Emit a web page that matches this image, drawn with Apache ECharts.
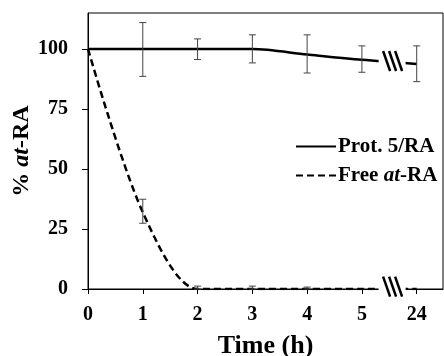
<!DOCTYPE html>
<html>
<head>
<meta charset="utf-8">
<script src="https://cdn.jsdelivr.net/npm/echarts@6/dist/echarts.min.js"></script>
<style>
  html, body { margin: 0; padding: 0; background: #fff; }
  #main { width: 444px; height: 356px; }
</style>
</head>
<body>
<div id="main"></div>
<script>
// x positions on the axis (6 stands for 24 h, after the axis break)
var xPos = [0, 1, 2, 3, 4, 5, 6];
var xTickLabels = ['0', '1', '2', '3', '4', '5', '24'];
var yTicks = [0, 25, 50, 75, 100];

var protMean = [100, 100, 100, 100, 97.7, 95.5, 93.8];
var protLow = [null, 88.6, 95.6, 94.2, 90, 90.3, 86.4];
var protHigh = [null, 111, 104.2, 105.9, 105.9, 101.3, 101.3];

var freeMean = [100, 32, 0, 0, 0, 0, 0];
var freeLow = [null, 27.4, 0, 0, 0, null, null];
var freeHigh = [null, 37.4, 1.2, 1.2, 0.8, null, null];

// where the axis break marks sit: [x, y]
var breakPts = [[5.56, 95], [5.56, 1]];

var font = 'Liberation Serif';

function pairs(ys) {
  return xPos.map(function (x, i) { return [x, ys[i]]; });
}
function errData(lo, hi) {
  var out = [];
  xPos.forEach(function (x, i) {
    if (lo[i] != null) out.push([x, lo[i], hi[i]]);
  });
  return out;
}

function renderErr(params, api) {
  var x = api.value(0);
  var top = api.coord([x, api.value(2)]);
  var bot = api.coord([x, api.value(1)]);
  var hw = 3.5;
  var st = { stroke: '#444', lineWidth: 1 };
  return {
    type: 'group',
    children: [
      { type: 'line', shape: { x1: top[0], y1: top[1], x2: bot[0], y2: bot[1] }, style: st },
      { type: 'line', shape: { x1: top[0] - hw, y1: top[1], x2: top[0] + hw, y2: top[1] }, style: st },
      { type: 'line', shape: { x1: bot[0] - hw, y1: bot[1], x2: bot[0] + hw, y2: bot[1] }, style: st }
    ]
  };
}

function renderBreak(params, api) {
  var c = api.coord([api.value(0), api.value(1)]);
  var kids = [{
    type: 'rect',
    shape: { x: c[0] - 14, y: c[1] - 7, width: 27, height: 14 },
    style: { fill: '#fff' }
  }];
  [-6, 0, 6].forEach(function (o) {
    kids.push({
      type: 'line',
      shape: { x1: c[0] + o - 3.5, y1: c[1] - 10, x2: c[0] + o + 3.5, y2: c[1] + 10 },
      style: { stroke: '#000', lineWidth: 2.5 }
    });
  });
  return { type: 'group', children: kids };
}

var chart = echarts.init(document.getElementById('main'));
var option = {
  backgroundColor: '#fff',
  animation: false,
  textStyle: { fontFamily: font, fontWeight: 'bold', color: '#000' },
  grid: {
    left: 88, top: 13, right: 1, bottom: 67,
    outerBoundsMode: 'none',
    containLabel: false,
    show: true, borderColor: '#000', borderWidth: 1
  },
  legend: {
    data: ['Prot. 5/RA', 'Free at-RA'],
    orient: 'vertical',
    left: 290,
    top: 131,
    itemWidth: 40,
    itemHeight: 10,
    itemGap: 8,
    itemStyle: { color: 'rgba(0,0,0,0)', borderWidth: 0, opacity: 0 },
    formatter: function (name) {
      return name === 'Free at-RA' ? '{n|Free }{i|at}{n|-RA}' : '{n|' + name + '}';
    },
    textStyle: {
      padding: [0, 0, 0, -3],
      rich: {
        n: { fontFamily: font, fontWeight: 'bold', fontSize: 21, color: '#000' },
        i: { fontFamily: font, fontWeight: 'bold', fontStyle: 'italic', fontSize: 21, color: '#000' }
      }
    }
  },
  xAxis: {
    type: 'value',
    min: 0,
    max: 6.48,
    name: 'Time (h)',
    nameLocation: 'middle',
    nameGap: 44,
    nameMoveOverlap: false,
    nameTextStyle: { fontFamily: font, fontWeight: 'bold', fontSize: 26, color: '#000' },
    splitLine: { show: false },
    axisLine: { lineStyle: { color: '#000', width: 1 } },
    axisTick: { length: 5, customValues: xPos, lineStyle: { color: '#000' } },
    axisLabel: {
      customValues: xPos,
      margin: 16,
      fontFamily: font, fontWeight: 'bold', fontSize: 20, color: '#000',
      formatter: function (v) { return xTickLabels[Math.round(v)]; }
    }
  },
  yAxis: {
    type: 'value',
    min: 0,
    max: 115,
    name: '% {i|at}-RA',
    nameLocation: 'middle',
    nameGap: 54,
    nameMoveOverlap: false,
    nameTextStyle: {
      fontFamily: font, fontWeight: 'bold', fontSize: 24, color: '#000',
      rich: { i: { fontFamily: font, fontWeight: 'bold', fontStyle: 'italic', fontSize: 24, color: '#000' } }
    },
    splitLine: { show: false },
    axisLine: { show: true, lineStyle: { color: '#000', width: 1 } },
    axisTick: { show: true, length: 6, customValues: yTicks, lineStyle: { color: '#000' } },
    axisLabel: {
      customValues: yTicks,
      margin: 20,
      fontFamily: font, fontWeight: 'bold', fontSize: 20, color: '#000'
    }
  },
  series: [
    {
      name: 'Prot. 5/RA',
      type: 'line',
      data: pairs(protMean),
      symbol: 'none',
      smooth: 0.3,
      lineStyle: { color: '#000', width: 2.5 },
      itemStyle: { color: '#000' },
      z: 3
    },
    {
      name: 'Free at-RA',
      type: 'line',
      data: pairs(freeMean),
      symbol: 'none',
      smooth: 0.3,
      lineStyle: { color: '#000', width: 2.5, type: [7, 4] },
      itemStyle: { color: '#000' },
      z: 3
    },
    {
      type: 'custom',
      renderItem: renderErr,
      data: errData(protLow, protHigh),
      encode: { x: 0, y: [1, 2] },
      z: 4
    },
    {
      type: 'custom',
      renderItem: renderErr,
      data: errData(freeLow, freeHigh),
      encode: { x: 0, y: [1, 2] },
      z: 4
    },
    {
      type: 'custom',
      renderItem: renderBreak,
      data: breakPts,
      encode: { x: 0, y: 1 },
      clip: false,
      z: 10
    }
  ]
};
chart.setOption(option);
</script>
</body>
</html>
